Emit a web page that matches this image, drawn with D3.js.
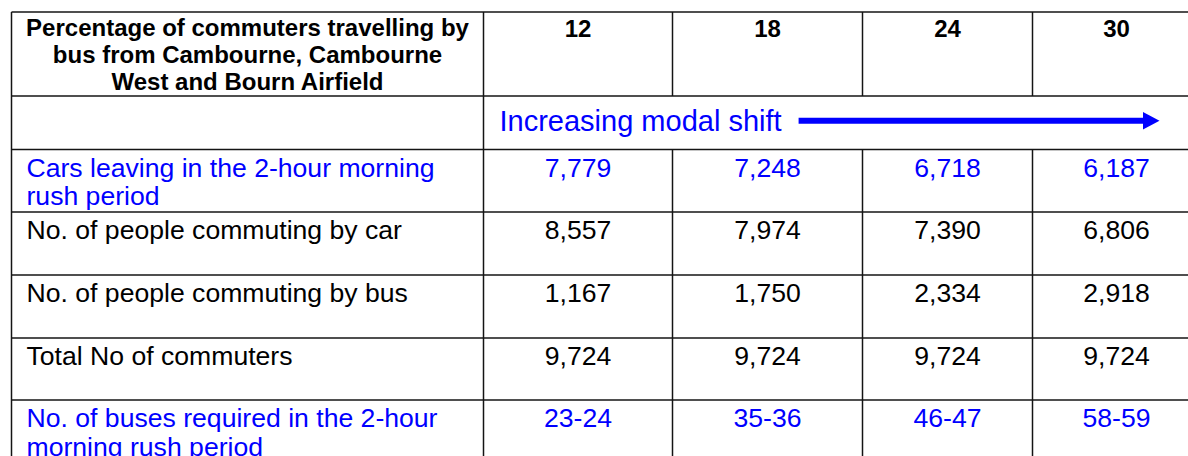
<!DOCTYPE html>
<html>
<head>
<meta charset="utf-8">
<script src="https://cdn.jsdelivr.net/npm/d3@7"></script>
<style>
  html, body { margin: 0; padding: 0; background: #fff; }
  svg { display: block; }
  text { font-family: Arial, "Liberation Sans", sans-serif; }
</style>
</head>
<body>
<div id="table"></div>
<script>

//////////////////
// Data
//////////////////

var percentages = [12, 18, 24, 30];

var headerLabel = [
    "Percentage of commuters travelling by",
    "bus from Cambourne, Cambourne",
    "West and Bourn Airfield"
];

var shiftLabel = "Increasing modal shift";

var rowLabels = [
    ["Cars leaving in the 2-hour morning", "rush period"],
    ["No. of people commuting by car"],
    ["No. of people commuting by bus"],
    ["Total No of commuters"],
    ["No. of buses required in the 2-hour", "morning rush period"]
];

var carsLeaving   = [7779, 7248, 6718, 6187];
var carCommuters  = [8557, 7974, 7390, 6806];
var busCommuters  = [1167, 1750, 2334, 2918];
var totalCommuters = [9724, 9724, 9724, 9724];
var busesRequired = ["23-24", "35-36", "46-47", "58-59"];

var rowValues = [carsLeaving, carCommuters, busCommuters, totalCommuters, busesRequired];


//////////////////
// Layout
//////////////////

var width = 1188,
    height = 456;

// (window.top is read-only, so own names here)
var tableLeft = 11.5,
    tableTop = 12;

// first column holds the row labels, the rest one per percentage
var colWidths = [472, 189, 190, 170, 168];
// header, modal shift row, then one per data row
var rowHeights = [84, 53.5, 62.5, 63, 63, 62, 62];

var blue = "#0000ff",
    black = "#000",
    lineColor = "#141414";

var blueRows = [0, 4];

var bodySize = 26.6,
    headSize = 24,
    shiftSize = 29;

var colKeys = ["label"].concat(percentages);
var colEdges = [tableLeft];
colWidths.forEach(function(w, i) { colEdges.push(colEdges[i] + w); });

var rowKeys = ["header", "shift"].concat(d3.range(rowLabels.length));
var rowEdges = [tableTop];
rowHeights.forEach(function(h, i) { rowEdges.push(rowEdges[i] + h); });

var x = d3.scaleOrdinal().domain(colKeys).range(colEdges.slice(0, -1));
var xw = d3.scaleOrdinal().domain(colKeys).range(colWidths);
var y = d3.scaleOrdinal().domain(rowKeys).range(rowEdges.slice(0, -1));

var fmt = d3.format(",");

var svg = d3.select("#table").append("svg")
    .attr("width", width)
    .attr("height", height);


//////////////////
// Grid lines
//////////////////

var grid = svg.append("g")
    .attr("stroke", lineColor)
    .attr("stroke-width", 1.5)
    .attr("fill", "none");

// horizontal lines
grid.selectAll("line.h")
    .data(rowEdges)
    .enter().append("line")
    .attr("class", "h")
    .attr("x1", tableLeft)
    .attr("x2", colEdges[colEdges.length - 1])
    .attr("y1", function(d) { return d; })
    .attr("y2", function(d) { return d; });

// vertical lines, the modal shift row is merged across the value columns
colEdges.forEach(function(cx, i) {
    var merged = i > 1 && i < colEdges.length - 1;
    var segs = merged
        ? [[rowEdges[0], rowEdges[1]], [rowEdges[2], rowEdges[rowEdges.length - 1]]]
        : [[rowEdges[0], rowEdges[rowEdges.length - 1]]];
    segs.forEach(function(s) {
        grid.append("line")
            .attr("x1", cx).attr("x2", cx)
            .attr("y1", s[0]).attr("y2", s[1]);
    });
});


//////////////////
// Header row
//////////////////

var head = svg.append("g")
    .attr("font-weight", "bold")
    .attr("font-size", headSize)
    .attr("fill", black)
    .attr("text-anchor", "middle");

head.selectAll("text.hl")
    .data(headerLabel)
    .enter().append("text")
    .attr("class", "hl")
    .attr("x", x("label") + xw("label") / 2)
    .attr("y", function(d, i) { return y("header") + 23.5 + i * 27; })
    .text(function(d) { return d; });

head.selectAll("text.pct")
    .data(percentages)
    .enter().append("text")
    .attr("class", "pct")
    .attr("x", function(d) { return x(d) + xw(d) / 2; })
    .attr("y", y("header") + 25)
    .text(function(d) { return d; });


//////////////////
// Modal shift row
//////////////////

var shiftX = x(percentages[0]) + 16;

var shiftText = svg.append("text")
    .attr("x", shiftX)
    .attr("y", y("shift") + 34.5)
    .attr("font-size", shiftSize)
    .attr("fill", blue)
    .text(shiftLabel);

var arrowY = y("shift") + 24.7,
    arrowX0 = shiftX + shiftText.node().getComputedTextLength() + 17,
    arrowTip = colEdges[colEdges.length - 1] - 41;

svg.append("line")
    .attr("x1", arrowX0)
    .attr("x2", arrowTip - 14)
    .attr("y1", arrowY)
    .attr("y2", arrowY)
    .attr("stroke", blue)
    .attr("stroke-width", 6);

svg.append("path")
    .attr("d", d3.line()([[arrowTip - 16.5, arrowY - 8.7], [arrowTip, arrowY], [arrowTip - 16.5, arrowY + 8.7]]) + "Z")
    .attr("fill", blue);


//////////////////
// Data rows
//////////////////

var rows = svg.selectAll("g.row")
    .data(rowLabels)
    .enter().append("g")
    .attr("class", "row")
    .attr("font-size", bodySize)
    .attr("fill", function(d, i) { return blueRows.indexOf(i) >= 0 ? blue : black; })
    .attr("transform", function(d, i) { return "translate(0," + y(i) + ")"; });

rows.selectAll("text.label")
    .data(function(d) { return d; })
    .enter().append("text")
    .attr("class", "label")
    .attr("x", x("label") + 15)
    .attr("y", function(d, i) { return 27 + i * 28.5; })
    .text(function(d) { return d; });

rows.selectAll("text.val")
    .data(function(d, i) { return rowValues[i]; })
    .enter().append("text")
    .attr("class", "val")
    .attr("text-anchor", "middle")
    .attr("x", function(d, i) { return x(percentages[i]) + xw(percentages[i]) / 2; })
    .attr("y", 27)
    .text(function(d) { return typeof d === "number" ? fmt(d) : d; });

</script>
</body>
</html>
